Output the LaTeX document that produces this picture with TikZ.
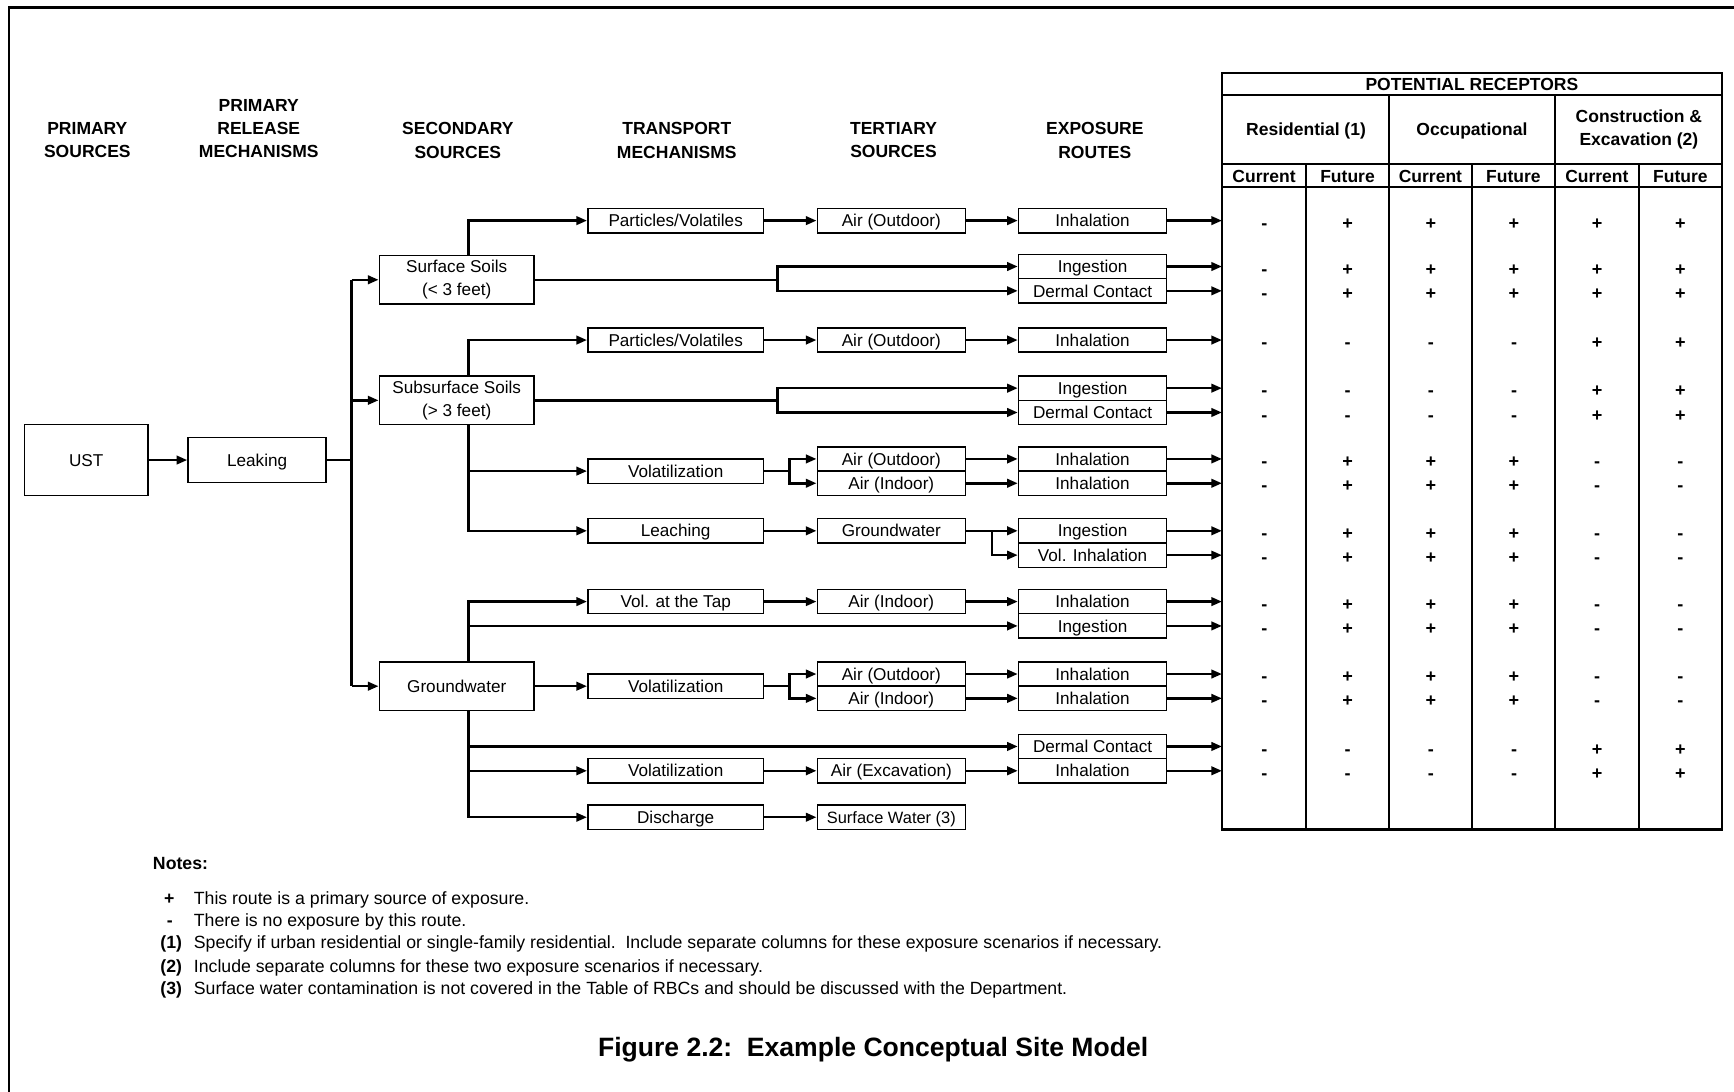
\documentclass[tikz,border=0pt]{standalone}
\usepackage{fontspec}
\setmainfont{Liberation Sans}
\usetikzlibrary{arrows.meta}
\begin{document}
\begin{tikzpicture}[x=0.6pt, y=-0.6pt,
  boxline/.style={draw, line width=0.8pt, inner sep=0pt, fill=white},
  lbl/.style={font=\fontsize{9.3}{12.6}\selectfont},
  onelabel/.style={lbl, text height=6.7pt, text depth=0pt},
  transportbox/.style={boxline, onelabel, minimum width=95.4pt, minimum height=13.2pt},
  tertbox/.style={boxline, onelabel, minimum width=80.4pt, minimum height=13.2pt},
  routebox/.style={boxline, onelabel, minimum width=80.4pt, minimum height=13.2pt},
  sourcebox/.style={boxline, lbl, minimum width=84pt, minimum height=26.4pt, align=center},
  colhead/.style={font=\fontsize{9.5}{12.6}\selectfont\bfseries, align=center, inner sep=0pt},
  cellhead/.style={font=\fontsize{9.5}{12.6}\selectfont\bfseries, inner sep=0pt, text height=6.8pt, text depth=0pt},
  symbol/.style={font=\fontsize{9.8}{11}\selectfont\bfseries, anchor=base, inner sep=0pt},
  notetext/.style={font=\fontsize{9.6}{11}\selectfont, anchor=base west, inner sep=0pt},
  notemark/.style={font=\fontsize{9.6}{11}\selectfont\bfseries, inner sep=0pt},
  flow/.style={line width=1.35pt, -{Triangle[length=5.8pt,width=4.6pt]}},
  link/.style={line width=1.35pt},
  gridline/.style={line width=1.25pt}]
\useasboundingbox (0,0) rectangle (1568,987);

% outer frame
\draw[line width=1.4pt] (8,987) -- (8,7) -- (1568,7);

% column headings
\node[colhead] (h1) at (79,127) {PRIMARY\\SOURCES};
\node[colhead] (h2) at (234,116.5) {PRIMARY\\RELEASE\\MECHANISMS};
\node[colhead] (h3) at (414,127) {SECONDARY\\SOURCES};
\node[colhead] (h4) at (612,127) {TRANSPORT\\MECHANISMS};
\node[colhead] (h5) at (808,127) {TERTIARY\\SOURCES};
\node[colhead] (h6) at (990,127) {EXPOSURE\\ROUTES};

% primary source and release
\node[boxline, onelabel, minimum width=67.2pt, minimum height=38.4pt] (ust) at (78,416) {UST};
\node[boxline, onelabel, minimum width=75pt, minimum height=24.6pt] (leak) at (232.5,416) {Leaking};

% secondary sources
\node[sourcebox] (ss)  at (413,253)   {Surface Soils\\(< 3 feet)};
\node[sourcebox] (sub) at (413,362)   {Subsurface Soils\\(> 3 feet)};
\node[sourcebox, text height=6.7pt, text depth=0pt] (gw) at (413,620.5) {Groundwater};

% transport mechanisms
\node[transportbox] (pv1)   at (611,199.5) {Particles/Volatiles};
\node[transportbox] (pv2)   at (611,307.5) {Particles/Volatiles};
\node[transportbox] (vol1)  at (611,426)   {Volatilization};
\node[transportbox] (leach) at (611,480)   {Leaching};
\node[transportbox] (tap)   at (611,544)   {Vol. at the Tap};
\node[transportbox] (vol2)  at (611,620.5) {Volatilization};
\node[transportbox] (vol3)  at (611,697)   {Volatilization};
\node[transportbox] (disch) at (611,739)   {Discharge};

% tertiary sources
\node[tertbox] (aout1) at (806,199.5) {Air (Outdoor)};
\node[tertbox] (aout2) at (806,307.5) {Air (Outdoor)};
\node[tertbox] (aout3) at (806,415)   {Air (Outdoor)};
\node[tertbox] (ain3)  at (806,437)   {Air (Indoor)};
\node[tertbox] (gwt)   at (806,480)   {Groundwater};
\node[tertbox] (ain4)  at (806,544)   {Air (Indoor)};
\node[tertbox] (aout5) at (806,609.5) {Air (Outdoor)};
\node[tertbox] (ain5)  at (806,631.5) {Air (Indoor)};
\node[tertbox] (aexc)  at (806,697)   {Air (Excavation)};
\node[tertbox, font=\fontsize{8.9}{11}\selectfont] (sw) at (806,739) {Surface Water (3)};

% exposure routes
\node[routebox] (inh1) at (988,199.5) {Inhalation};
\node[routebox] (ing1) at (988,241)   {Ingestion};
\node[routebox] (der1) at (988,263)   {Dermal Contact};
\node[routebox] (inh2) at (988,307.5) {Inhalation};
\node[routebox] (ing2) at (988,351)   {Ingestion};
\node[routebox] (der2) at (988,373)   {Dermal Contact};
\node[routebox] (inh3) at (988,415)   {Inhalation};
\node[routebox] (inh4) at (988,437)   {Inhalation};
\node[routebox] (ing3) at (988,480)   {Ingestion};
\node[routebox] (vinh) at (988,502)   {Vol. Inhalation};
\node[routebox] (inh5) at (988,544)   {Inhalation};
\node[routebox] (ing4) at (988,566)   {Ingestion};
\node[routebox] (inh6) at (988,609.5) {Inhalation};
\node[routebox] (inh7) at (988,631.5) {Inhalation};
\node[routebox] (der3) at (988,675)   {Dermal Contact};
\node[routebox] (inh8) at (988,697)   {Inhalation};

% junction points
\coordinate (j1) at (318,253);
\coordinate (j2) at (318,362);
\coordinate (j3) at (318,620.5);
\coordinate (f1) at (703,253);
\coordinate (f2) at (703,362);
\coordinate (f3) at (714,426);
\coordinate (f4) at (897,480);
\coordinate (f5) at (714,620.5);

% release to secondary sources
\draw[flow] (ust) -- (leak);
\draw[link] (leak) -- (leak -| j1);
\draw[link] (j1) -- (j3);
\draw[flow] (j1) -- (ss);
\draw[flow] (j2) -- (sub);
\draw[flow] (j3) -- (gw);

% surface soils
\draw[flow] ([xshift=6.3pt]ss.north) |- (pv1);
\draw[flow] (pv1) -- (aout1);
\draw[flow] (aout1) -- (inh1);
\draw[link] (ss) -- (f1);
\draw[flow] (f1) |- (ing1);
\draw[flow] (f1) |- (der1);

% subsurface soils
\draw[flow] ([xshift=6.3pt]sub.north) |- (pv2);
\draw[flow] (pv2) -- (aout2);
\draw[flow] (aout2) -- (inh2);
\draw[link] (sub) -- (f2);
\draw[flow] (f2) |- (ing2);
\draw[flow] (f2) |- (der2);
\draw[flow] ([xshift=6.3pt]sub.south) |- (vol1);
\draw[flow] ([xshift=6.3pt]sub.south) |- (leach);
\draw[link] (vol1) -- (f3);
\draw[flow] (f3) |- (aout3);
\draw[flow] (f3) |- (ain3);
\draw[flow] (aout3) -- (inh3);
\draw[flow] (ain3) -- (inh4);
\draw[flow] (leach) -- (gwt);
\draw[link] (gwt) -- (f4);
\draw[flow] (f4) -- (ing3);
\draw[flow] (f4) |- (vinh);

% groundwater
\draw[flow] ([xshift=6.3pt]gw.north) |- (tap);
\draw[flow] ([xshift=6.3pt]gw.north) |- (ing4);
\draw[flow] (tap) -- (ain4);
\draw[flow] (ain4) -- (inh5);
\draw[flow] (gw) -- (vol2);
\draw[link] (vol2) -- (f5);
\draw[flow] (f5) |- (aout5);
\draw[flow] (f5) |- (ain5);
\draw[flow] (aout5) -- (inh6);
\draw[flow] (ain5) -- (inh7);
\draw[flow] ([xshift=6.3pt]gw.south) |- (der3);
\draw[flow] ([xshift=6.3pt]gw.south) |- (vol3);
\draw[flow] ([xshift=6.3pt]gw.south) |- (disch);
\draw[flow] (vol3) -- (aexc);
\draw[flow] (aexc) -- (inh8);
\draw[flow] (disch) -- (sw);

% receptor table
\draw[gridline] (1105,66) rectangle (1557,750);
\draw[gridline] (1105,86) -- (1557,86);
\draw[gridline] (1105,148) -- (1557,148);
\draw[gridline] (1105,169) -- (1557,169);
\draw[gridline] (1256,86) -- (1256,750);
\draw[gridline] (1406,86) -- (1406,750);
\foreach \cx in {1181,1331,1482}
  \draw[gridline] (\cx,148) -- (\cx,750);

\node[cellhead] (rec) at (1331,76) {POTENTIAL RECEPTORS};
\node[cellhead] (res) at (1181,117) {Residential (1)};
\node[cellhead] (occ) at (1331,117) {Occupational};
\node[colhead] (con) at (1482,117) {Construction \&\\Excavation (2)};
\foreach \c/\cx in {1/1143,3/1293.5,5/1444}
  \node[cellhead] (cur\c) at (\cx,159) {Current};
\foreach \c/\cx in {2/1218.5,4/1368.5,6/1519.5}
  \node[cellhead] (fut\c) at (\cx,159) {Future};

% arrows from exposure routes into the table
\foreach \src/\r/\ry in {inh1/1/199.5, ing1/2/241, der1/3/263, inh2/4/307.5,
    ing2/5/351, der2/6/373, inh3/7/415, inh4/8/437, ing3/9/480, vinh/10/502,
    inh5/11/544, ing4/12/566, inh6/13/609.5, inh7/14/631.5, der3/15/675, inh8/16/697} {
  \coordinate (in\r) at (1105,\ry);
  \draw[flow] (\src) -- (in\r);
}

% receptor entries
\foreach \r/\ry/\vals in {
    1/199.5/{-,+,+,+,+,+},
    2/241/{-,+,+,+,+,+},
    3/263/{-,+,+,+,+,+},
    4/307.5/{-,-,-,-,+,+},
    5/351/{-,-,-,-,+,+},
    6/373/{-,-,-,-,+,+},
    7/415/{-,+,+,+,-,-},
    8/437/{-,+,+,+,-,-},
    9/480/{-,+,+,+,-,-},
    10/502/{-,+,+,+,-,-},
    11/544/{-,+,+,+,-,-},
    12/566/{-,+,+,+,-,-},
    13/609.5/{-,+,+,+,-,-},
    14/631.5/{-,+,+,+,-,-},
    15/675/{-,-,-,-,+,+},
    16/697/{-,-,-,-,+,+}} {
  \foreach \v [count=\c] in \vals
    \node[symbol] (sym-\r-\c) at ({1143.3+75.25*(\c-1)}, \ry+7.8) {\v};
}

% notes
\node[notemark, anchor=base west] (notes) at (138,786.5) {Notes:};
\node[notemark, anchor=base] (mplus)  at (153,817.5) {+};
\node[notemark, anchor=base] (mminus) at (153.5,837.5) {-};
\node[notemark, anchor=base east] (m1) at (165,858) {(1)};
\node[notemark, anchor=base east] (m2) at (165,879) {(2)};
\node[notemark, anchor=base east] (m3) at (165,899) {(3)};
\node[notetext] (n0) at (175,817.5) {This route is a primary source of exposure.};
\node[notetext] (n1) at (175,837.5) {There is no exposure by this route.};
\node[notetext] (n2) at (175,858) {Specify if urban residential or single-family residential.\ \ Include separate columns for these exposure scenarios if necessary.};
\node[notetext] (n3) at (175,879) {Include separate columns for these two exposure scenarios if necessary.};
\node[notetext] (n4) at (175,899) {Surface water contamination is not covered in the Table of RBCs and should be discussed with the Department.};

% caption
\node[font=\fontsize{14.4}{17}\selectfont\bfseries, anchor=base, inner sep=0pt] (caption)
  at (789.5,955) {Figure 2.2:\ \ Example Conceptual Site Model};

\end{tikzpicture}
\end{document}
